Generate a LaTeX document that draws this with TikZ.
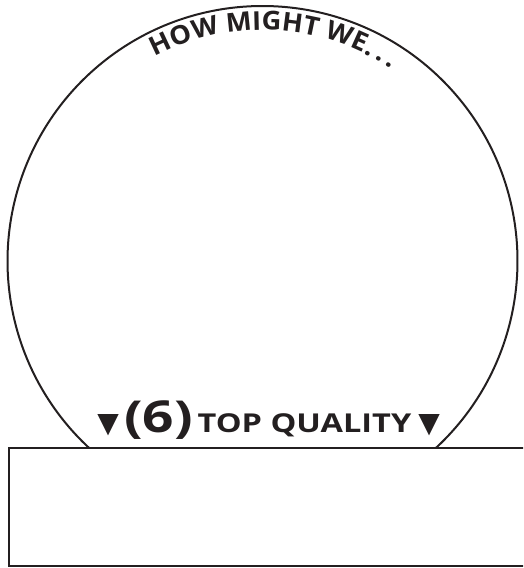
\documentclass[tikz,border=0pt]{standalone}
\usepackage{fontspec}
\usepackage{tikz}
\usetikzlibrary{positioning,decorations.text}
\newfontfamily\capfont{Open Sans}[FakeStretch=1.25]
\newfontfamily\rimfont{Open Sans}[FakeStretch=1.05]
\newfontfamily\symfont{DejaVu Sans}
\definecolor{ink}{HTML}{231F20}

\begin{document}
\begin{tikzpicture}[x=1pt, y=1pt, line width=2pt]
\useasboundingbox (0,0) rectangle (523,568);
\clip (0,0) rectangle (523,568);
\coordinate (c) at (262.5,307);
% globe outline, cut by the base
\draw[ink] (c) ++(-47.2:255) arc[start angle=-47.2, end angle=227.2, radius=255];
% base
\draw[ink] (9,2) rectangle (540,120);
% heading along the rim
\path[shift={(c)}, decorate, decoration={text along path, text align=center, text color=ink,
  text={|\rimfont\bfseries\fontsize{26}{26}\selectfont|HOW MIGHT WE.{\,}.{\,}.}}]
  (149:231) arc[start angle=149, end angle=25, radius=231];
% label row
\node[anchor=base west, inner sep=0, text=ink, font=\capfont\bfseries\fontsize{44}{44}\selectfont] (num) at (123,135) {(6)};
\node[anchor=base west, inner sep=0, text=ink, font=\capfont\bfseries\fontsize{26}{26}\selectfont] (qual) at ([xshift=3pt]num.base east) {TOP QUALITY};
\node[anchor=base east, inner sep=0, text=ink, font=\symfont\fontsize{28}{28}\selectfont] (triL) at ([xshift=-3pt]num.base west) {▼};
\node[anchor=base west, inner sep=0, text=ink, font=\symfont\fontsize{28}{28}\selectfont] (triR) at ([xshift=5pt]qual.base east) {▼};
\end{tikzpicture}
\end{document}
